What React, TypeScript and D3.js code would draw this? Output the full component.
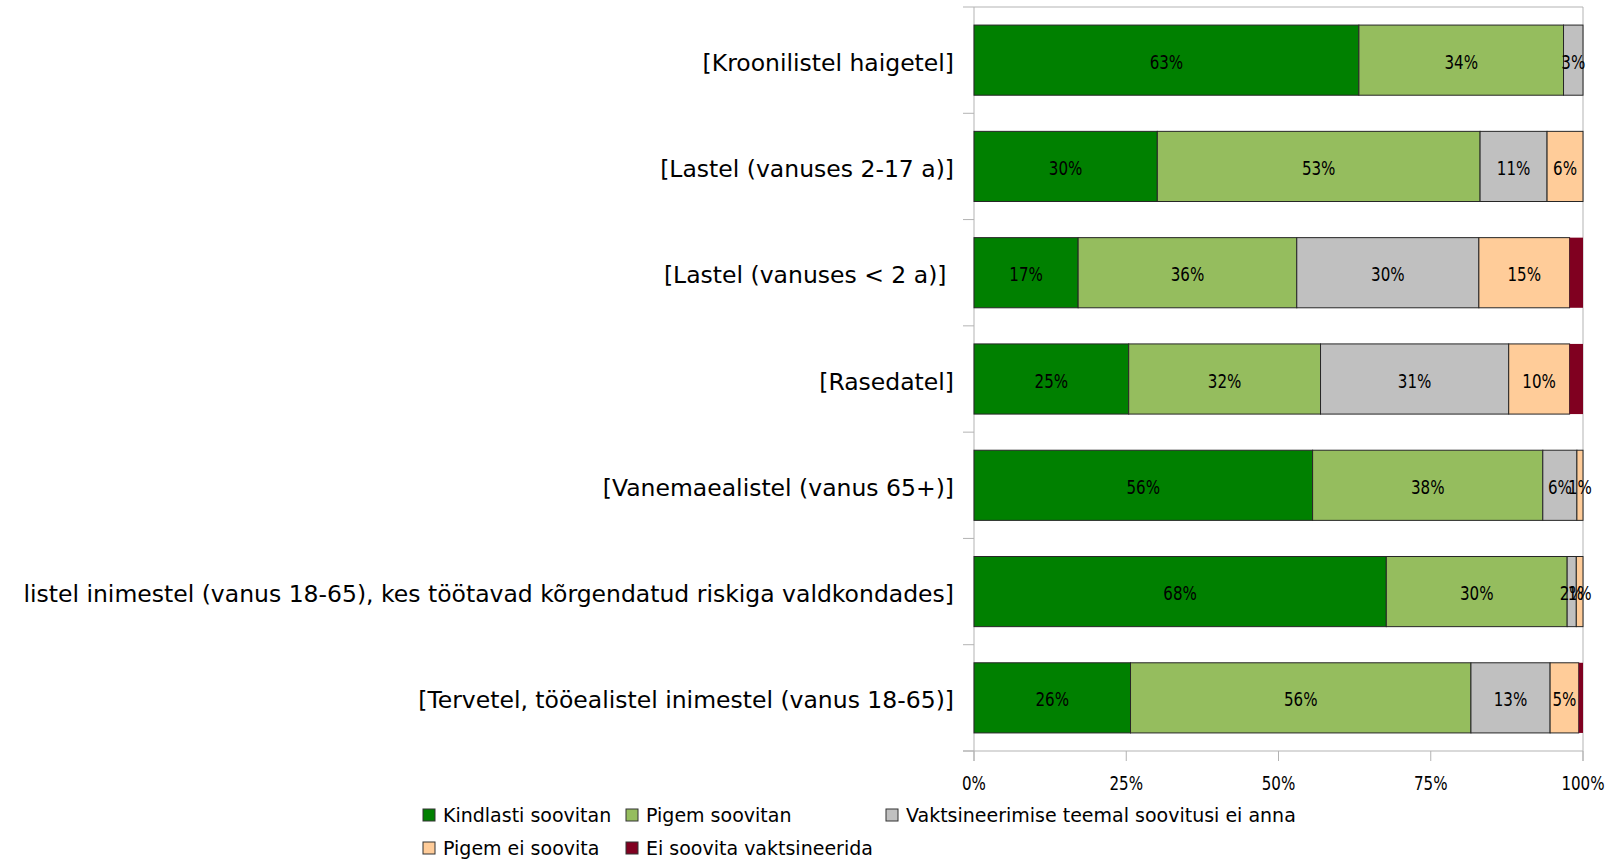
import React from "react";
import * as d3 from "d3";

const categories = [
  "[Kroonilistel haigetel]",
  "[Lastel (vanuses 2-17 a)]",
  "[Lastel (vanuses < 2 a)] ",
  "[Rasedatel]",
  "[Vanemaealistel (vanus 65+)]",
  "listel inimestel (vanus 18-65), kes töötavad kõrgendatud riskiga valdkondades]",
  "[Tervetel, tööealistel inimestel (vanus 18-65)]",
];

const seriesNames = [
  "Kindlasti soovitan",
  "Pigem soovitan",
  "Vaktsineerimise teemal soovitusi ei anna",
  "Pigem ei soovita",
  "Ei soovita vaktsineerida",
];

const kindlasti = [63.2, 30.1, 17.1, 25.4, 55.6, 67.7, 25.7];
const pigem = [33.6, 53.0, 35.9, 31.5, 37.8, 29.7, 55.9];
const eiAnna = [3.2, 11.0, 29.9, 30.9, 5.6, 1.5, 13.0];
const pigemEi = [0, 5.9, 14.9, 10.0, 1.0, 1.1, 4.7];
const eiSoovita = [0, 0, 2.2, 2.2, 0, 0, 0.7];

const colors = ["#008000", "#95bd5e", "#c0c0c0", "#ffcc99", "#800020"];
const xTicks = [0, 25, 50, 75, 100];

const W = 1616;
const H = 859;
const left = 974;
const right = 1583;
const top = 7;
const bottom = 751;

const condFont = "DejaVu Sans Condensed, DejaVu Sans";

function NarrowText({ x, y, children }: { x: number; y: number; children: any }) {
  return (
    <text
      transform={`translate(${x},${y}) scale(0.84,1)`}
      textAnchor="middle"
      fontFamily={condFont}
      fontStretch="condensed"
      fontSize={20}
      fill="#000"
    >
      {children}
    </text>
  );
}

export default function App() {
  const series = [kindlasti, pigem, eiAnna, pigemEi, eiSoovita];
  const rows = categories.map((c, i) => {
    const o: any = { cat: c };
    seriesNames.forEach((s, k) => (o[s] = series[k][i]));
    return o;
  });
  const stacked = d3.stack().keys(seriesNames)(rows);

  const x = d3.scaleLinear().domain([0, 100]).range([left, right]);
  const y = d3
    .scaleBand()
    .domain(categories)
    .range([top, bottom])
    .paddingInner(0.34)
    .paddingOuter(0.17);
  const step = y.step();

  const frame = "#b3b3b3";
  const legendRows = [
    [0, 1, 2],
    [3, 4],
  ];
  const legendX = [423, 626, 886];
  const legendY = [815, 848];

  return (
    <svg
      width={W}
      height={H}
      style={{ position: "absolute", left: 0, top: 0, background: "#fff" }}
    >
      {/* frame */}
      <line x1={left} x2={right} y1={top} y2={top} stroke={frame} />
      <line x1={right} x2={right} y1={top} y2={bottom + 10} stroke={frame} />
      <line x1={left} x2={left} y1={top} y2={bottom + 10} stroke={frame} />
      <line x1={left - 11} x2={right} y1={bottom} y2={bottom} stroke={frame} />
      {d3.range(categories.length + 1).map((i) => (
        <line
          key={"ct" + i}
          x1={left - 11}
          x2={left}
          y1={top + i * step}
          y2={top + i * step}
          stroke={frame}
        />
      ))}
      {xTicks.map((t) => (
        <g key={"xt" + t}>
          <line x1={x(t)} x2={x(t)} y1={bottom} y2={bottom + 10} stroke={frame} />
          <NarrowText x={x(t)} y={790}>
            {t + "%"}
          </NarrowText>
        </g>
      ))}

      {/* bars */}
      {stacked.map((s, k) => (
        <g key={"s" + k}>
          {s.map((d, i) => {
            const v = d[1] - d[0];
            if (v <= 0) return null;
            return (
              <rect
                key={i}
                x={x(d[0])}
                y={y(categories[i])}
                width={x(d[1]) - x(d[0])}
                height={y.bandwidth()}
                fill={colors[k]}
                stroke={k === 4 ? "none" : "#262626"}
                strokeWidth={1}
              />
            );
          })}
        </g>
      ))}
      {/* data labels */}
      {stacked.map((s, k) =>
        k === 4
          ? null
          : s.map((d, i) => {
              const v = d[1] - d[0];
              if (v <= 0) return null;
              return (
                <NarrowText
                  key={"l" + k + "-" + i}
                  x={(x(d[0]) + x(d[1])) / 2}
                  y={(y(categories[i]) as number) + y.bandwidth() / 2 + 8.5}
                >
                  {Math.round(v) + "%"}
                </NarrowText>
              );
            })
      )}

      {/* category labels */}
      {categories.map((c) => (
        <text
          key={"c" + c}
          x={954}
          y={(y(c) as number) + y.bandwidth() / 2 + 10.5}
          textAnchor="end"
          fontFamily="DejaVu Sans"
          fontSize={23.5}
          fill="#000"
          style={{ whiteSpace: "pre" }}
        >
          {c}
        </text>
      ))}

      {/* legend */}
      {legendRows.map((r, ri) =>
        r.map((k, ci) => (
          <g key={"lg" + k}>
            <rect
              x={legendX[ci]}
              y={legendY[ri] - 6}
              width={12}
              height={12}
              fill={colors[k]}
              stroke="#333"
              strokeWidth={1}
            />
            <text
              x={legendX[ci] + 20}
              y={legendY[ri] + 7}
              fontFamily="DejaVu Sans"
              fontSize={19}
              fill="#000"
            >
              {seriesNames[k]}
            </text>
          </g>
        ))
      )}
    </svg>
  );
}
